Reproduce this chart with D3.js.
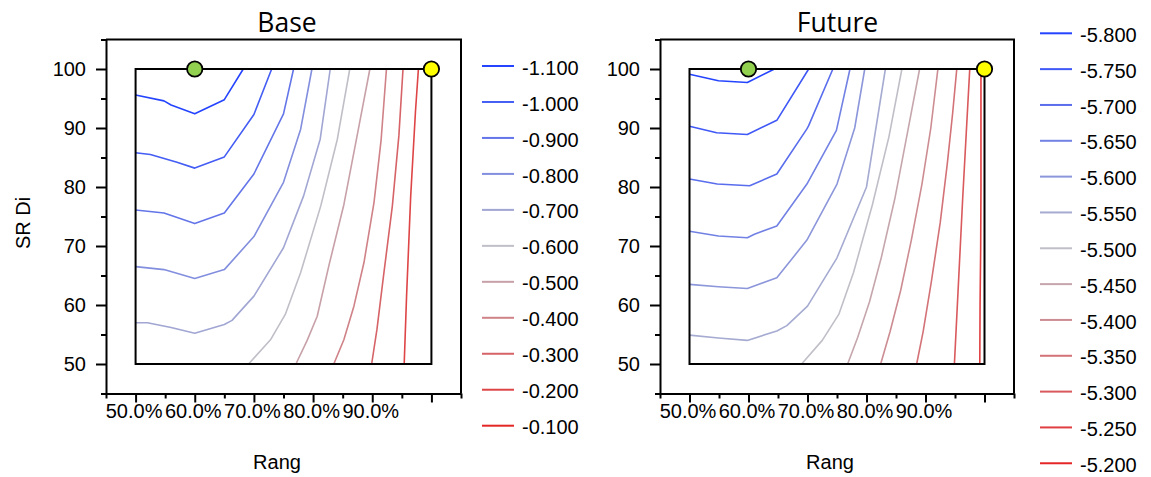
<!DOCTYPE html>
<html><head><meta charset="utf-8">
<script src="https://cdn.jsdelivr.net/npm/d3@7"></script>
<style>body{margin:0;background:#fff}svg{display:block}</style>
</head><body><svg id="c" width="1151" height="477"></svg>
<script>
// ---------- data ----------
const panelTitles = ["Base", "Future"];
const xTitle = "Rang";
const yTitle = "SR Di";
const xMajorTicks = [50, 60, 70, 80, 90, 100];
const xTickLabels = ["50.0%", "60.0%", "70.0%", "80.0%", "90.0%", ""];
const yMajorTicks = [50, 60, 70, 80, 90, 100];
const minorTicks = [45, 55, 65, 75, 85, 95, 105];

const baseLegendLevels = [-1.1, -1.0, -0.9, -0.8, -0.7, -0.6, -0.5, -0.4, -0.3, -0.2, -0.1];
const futureLegendLevels = [-5.8, -5.75, -5.7, -5.65, -5.6, -5.55, -5.5, -5.45, -5.4, -5.35, -5.3, -5.25, -5.2];

// contour lines: [Rang %, SR Di]
const baseContourLevels = [-1.1, -1.0, -0.9, -0.8, -0.7, -0.6, -0.5, -0.4, -0.3, -0.2];
const baseContours = [
  [[50,95.6],[54.8,94.6],[56,93.9],[60,92.4],[65,94.8],[68.2,100]],
  [[50,85.8],[52.5,85.5],[57,84.2],[60,83.2],[65,85.1],[70,92.3],[73,100]],
  [[50,76.1],[54.8,75.6],[60,73.8],[65,75.6],[70,82.2],[75,92.4],[76.7,100]],
  [[50,66.5],[54.8,66],[60,64.5],[65,66],[70,71.6],[75,80.8],[77.9,89.8],[79.8,100]],
  [[50,57],[52,57],[56,56.2],[60,55.2],[65,56.7],[66.3,57.4],[70,61.5],[75,69.7],[78.4,78.5],[81.2,88.1],[82.9,100]],
  [[69.1,50],[72.8,54.1],[75.3,58.4],[77.9,65.5],[81.3,76.8],[84.1,88.1],[86.2,100]],
  [[77.1,50],[79,54],[80.7,58.1],[82.7,66.8],[85.2,77],[87.5,89],[89.6,100]],
  [[83.5,50],[85.2,54.1],[86.9,59.8],[88.6,67.2],[90.3,77.4],[91.5,88],[92.4,100]],
  [[89.9,50],[90.8,55.9],[91.9,64.9],[93.4,76.8],[94.5,88.7],[95.2,100]],
  [[95.4,50],[95.8,61.5],[96.5,78.5],[97.3,92.7],[97.8,100]]
];

const futureContourLevels = [-5.8, -5.75, -5.7, -5.65, -5.6, -5.55, -5.5, -5.45, -5.4, -5.35, -5.3, -5.25];
const futureContours = [
  [[50,99.1],[54.9,98],[59.8,97.7],[64.4,100]],
  [[50,90.3],[54.6,89.2],[59.8,88.9],[64.8,91.3],[70.2,100]],
  [[50,81.35],[54.7,80.5],[60.2,80.2],[64.8,82.2],[69.9,89.85],[70.2,90.4],[74.3,100]],
  [[50,72.5],[54.9,71.7],[59.8,71.4],[61,72],[64.8,73.4],[69.9,80.5],[74.9,89.6],[77.2,100]],
  [[50,63.5],[54.9,63.1],[59.8,62.8],[64.8,64.6],[69.9,71],[75,80.5],[78,90],[79.7,100]],
  [[50,54.9],[54.9,54.4],[59.8,54],[64.8,55.6],[66.5,56.5],[70,59.8],[75,68],[80,80],[83.2,100]],
  [[69,50],[72.5,54],[75.3,58.4],[77.8,65.5],[81,77],[83.8,88.5],[86,100]],
  [[76.8,50],[78.5,54.5],[80.5,60.5],[82.5,68],[84.8,78],[87,89.5],[89,100]],
  [[82.4,50],[84,55.5],[85.8,62.5],[87.6,71],[89.4,80.5],[90.9,90],[92.1,100]],
  [[88.5,50],[89.6,55.5],[91,64],[92.5,74],[93.7,84],[94.6,92.5],[95.3,100]],
  [[94.9,50],[95.2,56],[95.7,66],[96.3,78],[96.9,89],[97.5,100]],
  [[99.2,50],[99.25,60],[99.35,69.5],[99.4,80],[99.4,100]]
];

const markerX = [60, 100];
const markerY = [100, 100];
const markerColors = ["#92d050", "#ffff00"];

// ---------- drawing ----------
const svg = d3.select("#c");
const FONT = "'Liberation Sans', Arial, sans-serif";

const panels = [
  {title: panelTitles[0], x0: 106, x1: 461, contours: baseContours, levels: baseContourLevels,
   legend: baseLegendLevels, lx: 482, ly: 66, lstep: 35.97, titleX: 287, xtitleX: 277},
  {title: panelTitles[1], x0: 660, x1: 1014, contours: futureContours, levels: futureContourLevels,
   legend: futureLegendLevels, lx: 1040, ly: 33.3, lstep: 35.83, titleX: 837.5, xtitleX: 830}
];

panels.forEach((p, pi) => {
  const x = d3.scaleLinear().domain([45, 105]).range([p.x0, p.x1]);
  const y = d3.scaleLinear().domain([45, 105]).range([393.5, 39.5]);
  const ext = d3.extent(p.legend);
  const color = d3.scaleLinear().domain([ext[0], (ext[0] + ext[1]) / 2, ext[1]])
    .range(["#2544ff", "#c0bfc8", "#e52626"]);

  const g = svg.append("g");

  // outer frame (top & right)
  g.append("path")
    .attr("d", `M${x(45)},${y(105)}H${x(105)}V${y(45)}`)
    .attr("fill", "none").attr("stroke", "#000").attr("stroke-width", 2);

  // minor ticks
  g.append("g").attr("transform", `translate(${x(45)},0)`)
    .call(d3.axisLeft(y).tickValues(minorTicks).tickSize(5).tickSizeOuter(0).tickFormat(""))
    .call(a => a.select(".domain").remove())
    .selectAll("line").attr("stroke-width", 2);
  g.append("g").attr("transform", `translate(0,${y(45)})`)
    .call(d3.axisBottom(x).tickValues(minorTicks).tickSize(5).tickSizeOuter(0).tickFormat(""))
    .call(a => a.select(".domain").remove())
    .selectAll("line").attr("stroke-width", 2);

  // major axes
  const ya = g.append("g").attr("transform", `translate(${x(45)},0)`)
    .call(d3.axisLeft(y).tickValues(yMajorTicks).tickSize(10).tickSizeOuter(0).tickPadding(10));
  const xa = g.append("g").attr("transform", `translate(0,${y(45)})`)
    .call(d3.axisBottom(x).tickValues(xMajorTicks).tickSize(9).tickSizeOuter(0).tickPadding(1)
      .tickFormat((d, i) => xTickLabels[i]));
  [ya, xa].forEach(a => {
    a.select(".domain").attr("stroke-width", 2);
    a.selectAll("line").attr("stroke-width", 2);
    a.selectAll("text").attr("font-family", FONT).attr("font-size", 20).attr("fill", "#000");
  });
  ya.selectAll("text").attr("dy", "0.34em");
  xa.selectAll("text").attr("dx", -2);

  // contour lines
  const line = d3.line().x(d => x(d[0])).y(d => y(d[1]));
  g.append("g").selectAll("path").data(p.contours).join("path")
    .attr("d", line)
    .attr("fill", "none")
    .attr("stroke", (d, i) => color(p.levels[i]))
    .attr("stroke-width", 1.6)
    .attr("stroke-linejoin", "round");

  // inner data box
  g.append("rect")
    .attr("x", x(50)).attr("y", y(100))
    .attr("width", x(100) - x(50)).attr("height", y(50) - y(100))
    .attr("fill", "none").attr("stroke", "#000").attr("stroke-width", 2);

  // markers
  g.append("g").selectAll("circle").data(markerX).join("circle")
    .attr("cx", d => x(d)).attr("cy", (d, i) => y(markerY[i])).attr("r", 7.7)
    .attr("fill", (d, i) => markerColors[i]).attr("stroke", "#000").attr("stroke-width", 1.8);

  // titles
  g.append("text").attr("x", p.titleX).attr("y", 31.5).attr("text-anchor", "middle")
    .attr("font-family", "'Open Sans', sans-serif").attr("font-size", 26.5).text(p.title);
  g.append("text").attr("x", p.xtitleX).attr("y", 469).attr("text-anchor", "middle")
    .attr("font-family", FONT).attr("font-size", 20).text(xTitle);

  // legend
  const lg = g.append("g");
  p.legend.forEach((v, i) => {
    const yy = p.ly + i * p.lstep;
    lg.append("line").attr("x1", p.lx).attr("x2", p.lx + 32).attr("y1", yy).attr("y2", yy)
      .attr("stroke", color(v)).attr("stroke-width", 2);
    lg.append("text").attr("x", p.lx + 40).attr("y", yy).attr("dy", "0.43em")
      .attr("font-family", FONT).attr("font-size", 20).text(v.toFixed(3));
  });
});

svg.append("text").attr("transform", "translate(30,223) rotate(-90)")
  .attr("text-anchor", "middle").attr("font-family", FONT).attr("font-size", 20).text(yTitle);
</script></body></html>
